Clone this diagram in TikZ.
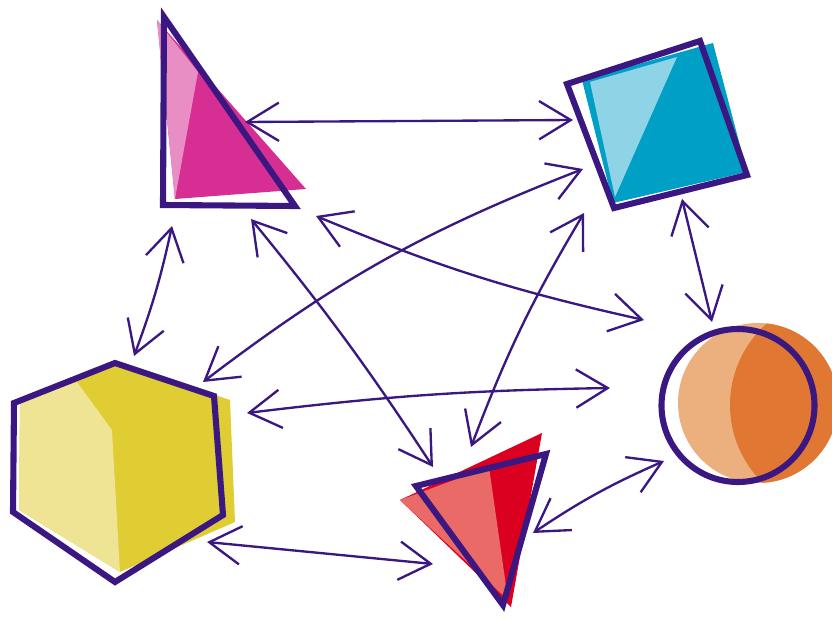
\documentclass[tikz,border=0pt]{standalone}
\usetikzlibrary{arrows.meta}
\definecolor{ink}{HTML}{3B1782}
\definecolor{pinkdark}{HTML}{D72E94}
\definecolor{pinklight}{HTML}{E88EC5}
\definecolor{bluedark}{HTML}{00A0C6}
\definecolor{bluelight}{HTML}{8ED4E6}
\definecolor{orangedark}{HTML}{E07834}
\definecolor{orangelight}{HTML}{ECB07F}
\definecolor{yellowdark}{HTML}{E0CC33}
\definecolor{yellowlight}{HTML}{EEE493}
\definecolor{reddark}{HTML}{DC0020}
\definecolor{redlight}{HTML}{E96A66}
\begin{document}
\begin{tikzpicture}[x=0.03cm,y=-0.03cm,>={Straight Barb[length=9.5mm,width=11.5mm]},
	rim/.style={ink,line width=5.2pt,line join=miter},
	link/.style={ink,line width=2pt,line cap=round,<->}]
	\useasboundingbox (0,0) rectangle (832,622);
	% pink triangle
	\fill[pinkdark] (157,20)--(306,189)--(175,199)--cycle;
	\fill[pinklight] (157,20)--(198,72)--(175,199)--cycle;
	\draw[rim] (164,17)--(295,206)--(163,205)--cycle;
	% blue square
	\fill[bluedark] (582,80)--(713,43)--(747,172)--(613,203)--cycle;
	\fill[bluelight] (590,82)--(677,57)--(615,197)--cycle;
	\draw[rim] (567,84)--(700,41)--(747,175)--(614,208)--cycle;
	% orange disc
	\fill[orangelight] (758,403) circle(80);
	\begin{scope}
		\clip (758,403) circle(80);
		\fill[orangedark] (839,405) circle(109);
	\end{scope}
	\draw[rim] (738,405.5) circle(76.5);
	% yellow hexagon
	\fill[yellowdark] (20,402)--(118,362)--(230,400)--(235,522)--(120,572)--(19,510)--cycle;
	\fill[yellowlight] (20,402)--(77,382)--(112,430)--(120,572)--(19,510)--cycle;
	\draw[rim] (14,403)--(115,363)--(214,396)--(223,515)--(115,582)--(13,512)--cycle;
	% red triangle
	\fill[reddark] (400,500)--(542,433)--(511,607)--cycle;
	\fill[redlight] (400,500)--(489,467)--(508,600)--cycle;
	\draw[rim] (416,486)--(546,454)--(503,605)--cycle;
	% arrow ends
	\coordinate (trip-e) at (245,122);
	\coordinate (trip-s) at (172,226);
	\coordinate (trip-r) at (251,219);
	\coordinate (trip-d) at (316,216);
	\coordinate (sq-w) at (573,120);
	\coordinate (sq-sw) at (583,169);
	\coordinate (sq-s) at (584,213);
	\coordinate (sq-se) at (682,199);
	\coordinate (disc-n) at (712,322);
	\coordinate (disc-nw) at (644,320);
	\coordinate (disc-w) at (610,388);
	\coordinate (disc-sw) at (664,461);
	\coordinate (hexa-n) at (134,356);
	\coordinate (hexa-ne) at (203,382);
	\coordinate (hexa-e) at (247,413);
	\coordinate (hexa-se) at (207,542);
	\coordinate (trir-n) at (433,467);
	\coordinate (trir-ne) at (471,447);
	\coordinate (trir-e) at (533,533);
	\coordinate (trir-w) at (433,564);
	\draw[link] (trip-e) to (sq-w);
	\draw[link] (trip-s) to[bend left=4] (hexa-n);
	\draw[link] (trip-r) to[bend left=3] (trir-n);
	\draw[link] (trip-d) to[bend right=5] (disc-nw);
	\draw[link] (hexa-ne) to[bend left=8] (sq-sw);
	\draw[link] (sq-s) to[bend right=5] (trir-ne);
	\draw[link] (hexa-e) to[bend left=3] (disc-w);
	\draw[link] (sq-se) to (disc-n);
	\draw[link] (trir-e) to[bend left=5] (disc-sw);
	\draw[link] (hexa-se) to (trir-w);
\end{tikzpicture}
\end{document}
